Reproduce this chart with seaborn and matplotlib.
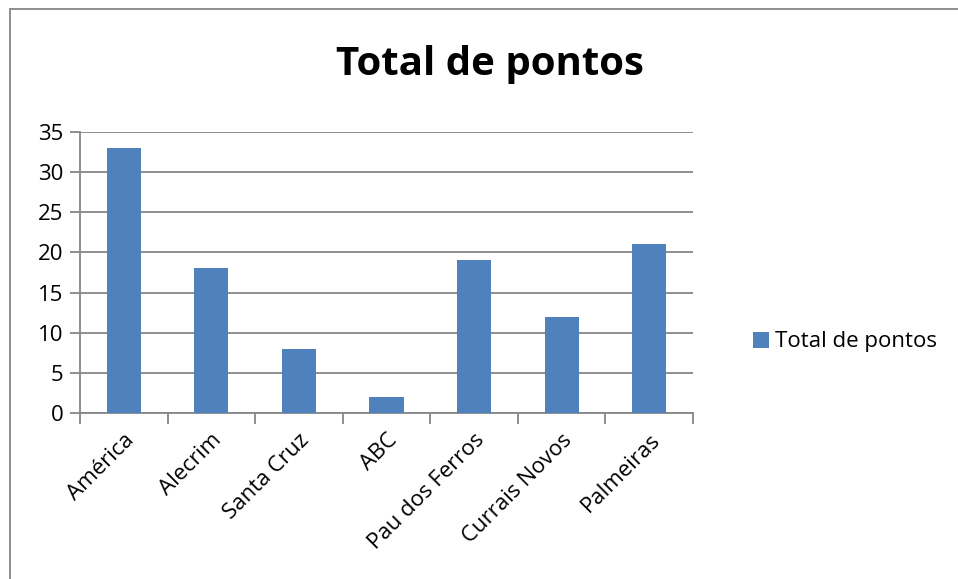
import seaborn as sns
import matplotlib.pyplot as plt
import pandas as pd
import numpy as np
from matplotlib.lines import Line2D
from matplotlib.patches import Patch

times = ['América', 'Alecrim', 'Santa Cruz', 'ABC', 'Pau dos Ferros', 'Currais Novos', 'Palmeiras']
pontos = [33, 18, 8, 2, 19, 12, 21]
yticks = [0, 5, 10, 15, 20, 25, 30, 35]

df = pd.DataFrame({'Time': times, 'Total de pontos': pontos})

sns.set_style('white')
plt.rcParams['font.family'] = ['Open Sans', 'DejaVu Sans']
plt.rcParams['text.color'] = 'black'
plt.rcParams['xtick.color'] = 'black'
plt.rcParams['ytick.color'] = 'black'

W, H = 958, 579
fig = plt.figure(figsize=(W / 100, H / 100), dpi=100)
ax = fig.add_axes([80 / W, 1 - 413 / H, (693 - 80) / W, (413 - 132) / H])

sns.barplot(data=df, x='Time', y='Total de pontos', color='#4F81BD', width=0.39,
            saturation=1, linewidth=0, ax=ax, zorder=3)

grid_c = '#868686'
ax.set_ylim(0, 35)
ax.set_xlim(-0.5, len(times) - 0.5)
ax.set_yticks(yticks)
ax.set_yticklabels([str(v) for v in yticks], fontsize=16)
ax.yaxis.grid(True, color=grid_c, linewidth=1.3, zorder=0)
ax.set_axisbelow(True)
ax.tick_params(axis='y', length=7, width=1.3, color=grid_c, pad=5, left=True,
               labelcolor='black')

ax.set_xticks(range(len(times)))
ax.set_xticklabels(times, rotation=45, ha='right', rotation_mode='anchor', fontsize=16)
ax.tick_params(axis='x', which='major', length=0, pad=12, labelcolor='black')
ax.set_xticks(np.arange(-0.5, len(times), 1), minor=True)
ax.tick_params(axis='x', which='minor', length=8, width=1.3, color=grid_c, bottom=True)

for s in ['top', 'right']:
    ax.spines[s].set_visible(False)
for s in ['left', 'bottom']:
    ax.spines[s].set_color(grid_c)
    ax.spines[s].set_linewidth(1.3)

ax.set_xlabel('')
ax.set_ylabel('')

fig.text(490 / W, 1 - 65 / H, 'Total de pontos', fontsize=29, fontweight='bold',
         ha='center', va='center', color='black')

handle = Patch(facecolor='#4F81BD', edgecolor='none')
fig.legend([handle], ['Total de pontos'], loc='center left',
           bbox_to_anchor=(733 / W, 1 - 342 / H), frameon=False, fontsize=16,
           handlelength=0.7, handleheight=0.7, handletextpad=0.3,
           labelcolor='black')

# chart frame (only left and top edges are visible in the crop)
fig.add_artist(Line2D([10 / W, 10 / W], [0, 1 - 9 / H], color=grid_c, lw=1.3,
                      transform=fig.transFigure))
fig.add_artist(Line2D([10 / W, 1], [1 - 9 / H, 1 - 9 / H], color=grid_c, lw=1.3,
                      transform=fig.transFigure))

fig.savefig('out.png', dpi=100)
